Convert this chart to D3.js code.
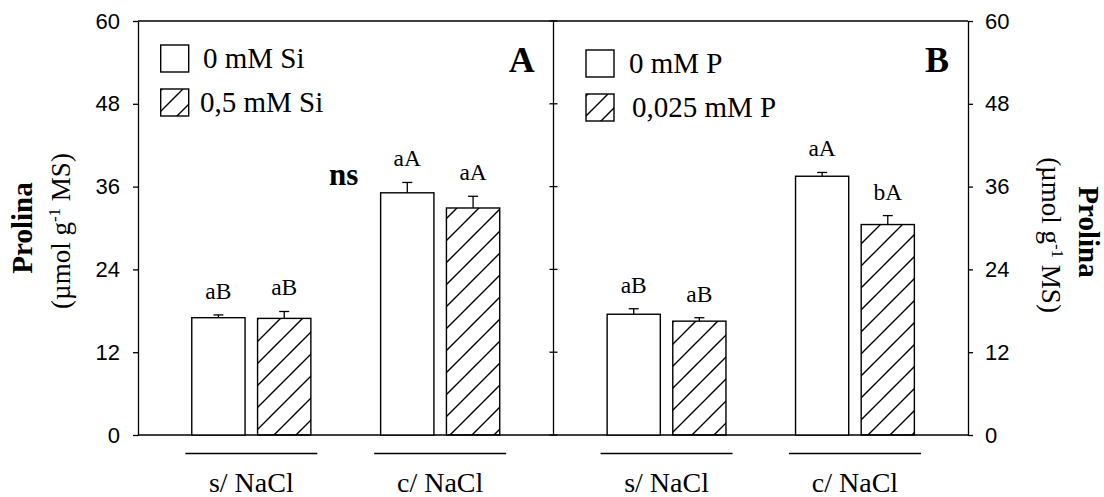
<!DOCTYPE html>
<html>
<head>
<meta charset="utf-8">
<script src="https://cdn.jsdelivr.net/npm/d3@7"></script>
<style>
  body { margin: 0; background: #fff; }
  svg { display: block; font-family: "Liberation Serif", "Times New Roman", serif; }
  .axis text { font-size: 22px; fill: #000; }
  .axis line, .axis path { stroke: #000; stroke-width: 1.3; }
</style>
</head>
<body>
<div id="chart"></div>
<script>
// ---- data ----
var categories = ["s/ NaCl", "c/ NaCl"];
var yTicks = [0, 12, 24, 36, 48, 60];

// panel A (Si)
var siSeries = ["0 mM Si", "0,5 mM Si"];
var siControl = [17.0, 35.1];
var siTreated = [16.9, 32.9];
var siControlErr = [0.4, 1.5];
var siTreatedErr = [1.0, 1.7];
var siControlLetters = ["aB", "aA"];
var siTreatedLetters = ["aB", "aA"];

// panel B (P)
var pSeries = ["0 mM P", "0,025 mM P"];
var pControl = [17.5, 37.5];
var pTreated = [16.5, 30.5];
var pControlErr = [0.8, 0.55];
var pTreatedErr = [0.5, 1.3];
var pControlLetters = ["aB", "aA"];
var pTreatedLetters = ["aB", "bA"];

var w = 1104, h = 497;
var plotLeft = 138, plotRight = 968, plotTop = 21, plotBottom = 435, mid = 553.5;

var svg = d3.select("#chart").append("svg")
  .attr("width", w).attr("height", h);

var defs = svg.append("defs");
// hatch ("/") pattern, period p, shifted by dx
function hatch(id, p, dx) {
  defs.append("pattern")
    .attr("id", id)
    .attr("patternUnits", "userSpaceOnUse")
    .attr("x", dx).attr("y", 0)
    .attr("width", p).attr("height", p)
    .append("path")
    .attr("d", "M0," + p + " L" + p + ",0 M" + (-p / 4) + "," + (p / 4) + " L" + (p / 4) + "," + (-p / 4) +
      " M" + (p * 3 / 4) + "," + (p * 5 / 4) + " L" + (p * 5 / 4) + "," + (p * 3 / 4))
    .attr("stroke", "#000").attr("stroke-width", 1.4);
}
hatch("hatch", 22, 5);
hatch("hatchLegA", 21, -1);
hatch("hatchLegB", 20, 2);

var y = d3.scaleLinear().domain([0, 60]).range([plotBottom, plotTop]);

// frame
svg.append("line").attr("x1", plotLeft).attr("x2", plotRight).attr("y1", plotTop).attr("y2", plotTop)
  .attr("stroke", "#000").attr("stroke-width", 1.3);
svg.append("line").attr("x1", plotLeft).attr("x2", plotRight).attr("y1", plotBottom).attr("y2", plotBottom)
  .attr("stroke", "#000").attr("stroke-width", 1.3);

// axes
svg.append("g").attr("class", "axis")
  .attr("transform", "translate(" + plotLeft + ",0)")
  .call(d3.axisLeft(y).tickValues(yTicks).tickSize(5).tickSizeOuter(0).tickPadding(13));

svg.append("g").attr("class", "axis")
  .attr("transform", "translate(" + plotRight + ",0)")
  .call(d3.axisRight(y).tickValues(yTicks).tickSize(5).tickSizeOuter(0).tickPadding(12));

// middle divider with ticks crossing
var midAxis = svg.append("g").attr("class", "axis");
midAxis.append("line").attr("x1", mid).attr("x2", mid).attr("y1", plotTop).attr("y2", plotBottom);
midAxis.selectAll(".mt").data(yTicks).enter().append("line")
  .attr("x1", mid - 4).attr("x2", mid + 4)
  .attr("y1", function(d) { return y(d); })
  .attr("y2", function(d) { return y(d); });

function drawPanel(x0min, x0max, series, vals, errs, letters, legX, legY, legTextX, legHatch, letter, letterX) {
  var x0 = d3.scaleBand().domain(categories).range([x0min, x0max])
    .paddingInner(0).paddingOuter(0.1);
  var x1 = d3.scaleBand().domain([0, 1]).range([0, x0.bandwidth()])
    .paddingInner(0.19).paddingOuter(0.53);

  var g = svg.append("g");
  categories.forEach(function(cat, ci) {
    [0, 1].forEach(function(si) {
      var v = vals[si][ci], e = errs[si][ci];
      var bx = x0(cat) + x1(si);
      var cx = bx + x1.bandwidth() / 2;
      g.append("rect")
        .attr("x", bx).attr("y", y(v))
        .attr("width", x1.bandwidth()).attr("height", y(0) - y(v))
        .attr("fill", si === 0 ? "#fff" : "url(#hatch)")
        .attr("stroke", "#000").attr("stroke-width", 1.4);
      g.append("line")
        .attr("x1", cx).attr("x2", cx).attr("y1", y(v)).attr("y2", y(v + e))
        .attr("stroke", "#000").attr("stroke-width", 1.3);
      g.append("line")
        .attr("x1", cx - 5).attr("x2", cx + 5).attr("y1", y(v + e)).attr("y2", y(v + e))
        .attr("stroke", "#000").attr("stroke-width", 1.3);
      g.append("text")
        .attr("x", cx).attr("y", y(v + e) - 16)
        .attr("text-anchor", "middle")
        .style("font-size", "23.5px")
        .text(letters[si][ci]);
    });
    var c = x0(cat) + x0.bandwidth() / 2;
    g.append("line")
      .attr("x1", c - 66).attr("x2", c + 66).attr("y1", 453.5).attr("y2", 453.5)
      .attr("stroke", "#000").attr("stroke-width", 1.3);
    g.append("text")
      .attr("x", c).attr("y", 492)
      .attr("text-anchor", "middle")
      .style("font-size", "28px")
      .text(cat);
  });

  // legend
  series.forEach(function(s, i) {
    g.append("rect")
      .attr("x", legX).attr("y", legY[i])
      .attr("width", 28).attr("height", 27)
      .attr("fill", i === 0 ? "#fff" : "url(#" + legHatch + ")")
      .attr("stroke", "#000").attr("stroke-width", 1.4);
    g.append("text")
      .attr("x", legTextX[i]).attr("y", legY[i] + 23)
      .style("font-size", "29px")
      .text(s);
  });

  g.append("text")
    .attr("x", letterX).attr("y", 72)
    .attr("text-anchor", "middle")
    .style("font-size", "36px").style("font-weight", "bold")
    .text(letter);
}

drawPanel(plotLeft, mid, siSeries,
  [siControl, siTreated], [siControlErr, siTreatedErr], [siControlLetters, siTreatedLetters],
  160.7, [45, 89], [203, 200], "hatchLegA", "A", 521.7);

drawPanel(mid, plotRight, pSeries,
  [pControl, pTreated], [pControlErr, pTreatedErr], [pControlLetters, pTreatedLetters],
  586, [50, 94], [629, 632], "hatchLegB", "B", 937);

// ns mark
svg.append("text")
  .attr("x", 343.7).attr("y", 185)
  .attr("text-anchor", "middle")
  .style("font-size", "31px").style("font-weight", "bold")
  .text("ns");

// y titles
function yTitle(x1, x2, cy, rot) {
  svg.append("text")
    .attr("transform", "translate(" + x1 + "," + cy + ") rotate(" + rot + ")")
    .attr("text-anchor", "middle")
    .style("font-size", "29px").style("font-weight", "bold")
    .text("Prolina");
  var t = svg.append("text")
    .attr("transform", "translate(" + x2 + "," + (cy + 3) + ") rotate(" + rot + ")")
    .attr("text-anchor", "middle")
    .style("font-size", "27px");
  t.append("tspan").text("(\u00b5mol g");
  t.append("tspan").attr("dy", -10).style("font-size", "17px").text("-1");
  t.append("tspan").attr("dy", 10).text(" MS)");
}
yTitle(31.7, 70, 228, -90);
yTitle(1079, 1042, 232, 90);
</script>
</body>
</html>
